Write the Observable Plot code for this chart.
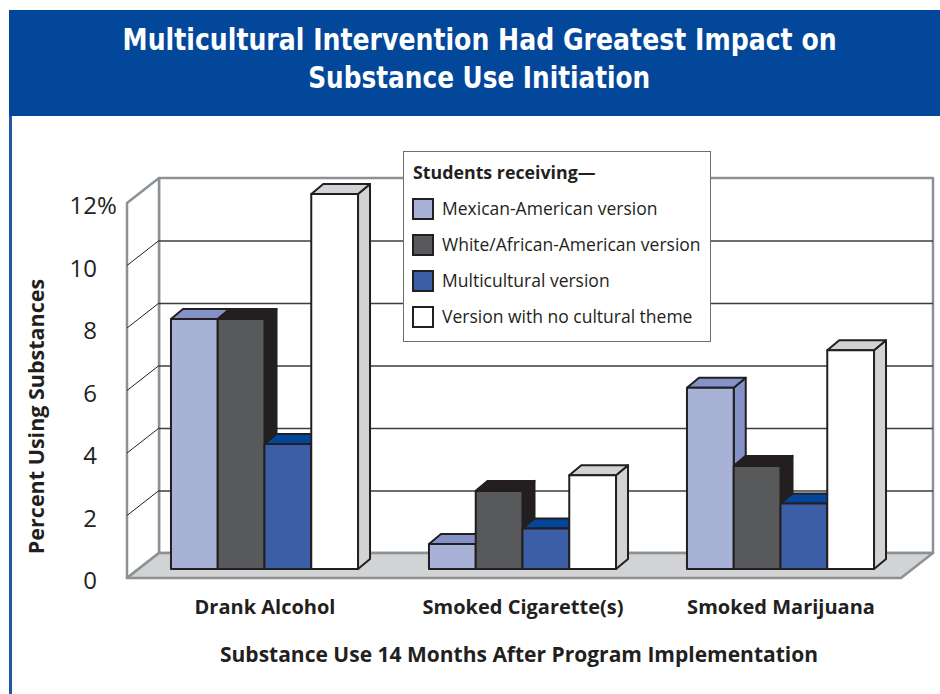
<!DOCTYPE html>
<html>
<head>
<meta charset="utf-8">
<script src="https://cdn.jsdelivr.net/npm/d3@7"></script>
<script src="https://cdn.jsdelivr.net/npm/@observablehq/plot@0.6"></script>
<style>
  body { margin: 0; background: #fff; }
  #frame { position: relative; width: 940px; height: 694px; overflow: hidden; font-family: "Open Sans", sans-serif; color: #231f20; }
  #chart { position: absolute; left: 0; top: 0; }
  #banner { position: absolute; left: 9px; top: 10px; width: 931px; height: 106px; background: #03479a; }
  .tline { position: absolute; left: 0; width: 931px; text-align: center; color: #fff; font-family: "Liberation Sans Narrow", "DejaVu Sans Condensed", sans-serif; font-weight: 700; font-size: 30px; line-height: 36px; white-space: nowrap; }
  .tline span { display: inline-block; transform-origin: center; }
  #rule { position: absolute; left: 9px; top: 116px; width: 3px; height: 578px; background: #1d57a5; }
  #legend { position: absolute; left: 403px; top: 151px; width: 306px; height: 189px; border: 1.5px solid #6d6e71; background: #fff; }
  #legend .lt { position: absolute; left: 9px; top: 8px; font-weight: 700; font-size: 17.8px; line-height: 24px; white-space: nowrap; }
  #legend .item { position: absolute; left: 8px; height: 24px; white-space: nowrap; font-size: 17.5px; line-height: 24px; }
  #legend .sw { position: absolute; left: 0; top: 1px; width: 18px; height: 18px; border: 2px solid #231f20; }
  #legend .lab { position: absolute; left: 30px; top: -1px; }
</style>
</head>
<body>
<div id="frame">
  <div id="chart"></div>
  <div id="rule"></div>
  <div id="banner">
    <div class="tline" style="top:12px"><span id="t1">Multicultural Intervention Had Greatest Impact on</span></div>
    <div class="tline" style="top:50px"><span id="t2">Substance Use Initiation</span></div>
  </div>
  <div id="legend"></div>
</div>
<script>
// ---- data ----
const categories = ["Drank Alcohol", "Smoked Cigarette(s)", "Smoked Marijuana"];
const versions = ["Mexican-American version", "White/African-American version", "Multicultural version", "Version with no cultural theme"];
const mexicanAmerican = [8.0, 0.8, 5.8];
const whiteAfricanAmerican = [8.0, 2.5, 3.3];
const multicultural = [4.0, 1.3, 2.1];
const noCulturalTheme = [12.0, 3.0, 7.0];
const yTicks = [0, 2, 4, 6, 8, 10, 12];
const legendTitle = "Students receiving\u2014";
const yTitle = "Percent Using Substances";
const xTitle = "Substance Use 14 Months After Program Implementation";

// ---- styles ----
const frontColors = ["#a8b1d6", "#58595b", "#3c5ea6", "#ffffff"];
const sideColors = ["#8592c8", "#231f20", "#03469a", "#d1d3d4"];
const ink = "#231f20";
const wallGray = "#8c9196";
const groupWidth = 0.725;           // fraction of one category step
const barDepth = {dx: 12, dy: -10}; // pixel depth of a bar
const backPlane = {dx: 23.5, dy: -16};
const frontPlane = {dx: -8.5, dy: 9};

const seriesValues = [mexicanAmerican, whiteAfricanAmerican, multicultural, noCulturalTheme];
const rows = [];
categories.forEach((c, ci) => versions.forEach((v, vi) => {
  rows.push({category: c, version: v, ci, vi, value: seriesValues[vi][ci]});
}));
const barW = groupWidth / versions.length;
const x1 = d => d.ci - groupWidth / 2 + d.vi * barW;
const x2 = d => d.ci - groupWidth / 2 + (d.vi + 1) * barW;

const poly = (g, pts, fill, stroke, sw) => g.append("polygon")
  .attr("points", pts.map(p => p.join(",")).join(" "))
  .attr("fill", fill).attr("stroke", stroke).attr("stroke-width", sw).attr("stroke-linejoin", "round");

// walls + floor
function walls(index, scales) {
  const x = scales.x, y = scales.y;
  const [d0, d1] = x.domain();
  const xL = x(d0), xR = x(d1), y0 = y(0), yT = y(yTicks[yTicks.length - 1]);
  const g = d3.create("svg:g");
  poly(g, [[xL + backPlane.dx, y0 + backPlane.dy], [xL + backPlane.dx, yT + backPlane.dy], [xR + backPlane.dx, yT + backPlane.dy], [xR + backPlane.dx, y0 + backPlane.dy]], "#fff", wallGray, 2.5);
  poly(g, [[xL + frontPlane.dx, y0 + frontPlane.dy], [xL + frontPlane.dx, yT + frontPlane.dy], [xL + backPlane.dx, yT + backPlane.dy], [xL + backPlane.dx, y0 + backPlane.dy]], "#fff", wallGray, 2.5);
  return g.node();
}
function leftWallTicks(index, scales) {
  const x = scales.x, y = scales.y;
  const xL = x(x.domain()[0]);
  const g = d3.create("svg:g");
  yTicks.slice(1, -1).forEach(t => {
    g.append("line")
      .attr("x1", xL + frontPlane.dx).attr("y1", y(t) + frontPlane.dy)
      .attr("x2", xL + backPlane.dx).attr("y2", y(t) + backPlane.dy)
      .attr("stroke", ink).attr("stroke-width", 1);
  });
  return g.node();
}
function floor(index, scales) {
  const x = scales.x, y = scales.y;
  const [d0, d1] = x.domain();
  const xL = x(d0), xR = x(d1), y0 = y(0);
  const g = d3.create("svg:g");
  poly(g, [[xL + frontPlane.dx, y0 + frontPlane.dy], [xR + frontPlane.dx, y0 + frontPlane.dy], [xR + backPlane.dx, y0 + backPlane.dy], [xL + backPlane.dx, y0 + backPlane.dy]], "#d1d3d4", wallGray, 2.5);
  return g.node();
}
// top and side faces of the bars
function barFaces(index, scales) {
  const x = scales.x, y = scales.y;
  const g = d3.create("svg:g");
  const {dx, dy} = barDepth;
  rows.forEach(d => {
    const L = x(x1(d)), R = x(x2(d)), T = y(d.value), B = y(0);
    poly(g, [[R, B], [R, T], [R + dx, T + dy], [R + dx, B + dy]], sideColors[d.vi], ink, 2);
    poly(g, [[L, T], [R, T], [R + dx, T + dy], [L + dx, T + dy]], sideColors[d.vi], ink, 2);
  });
  return g.node();
}

const chart = Plot.plot({
  width: 940,
  height: 694,
  marginLeft: 135.5,
  marginRight: 30.5,
  marginTop: 194,
  marginBottom: 125,
  x: {type: "linear", domain: [-0.5, categories.length - 0.5], axis: null},
  y: {domain: [0, 12], axis: null},
  style: {background: "transparent", fontFamily: "'Open Sans', sans-serif", color: ink},
  marks: [
    walls,
    Plot.ruleY(yTicks.slice(1, -1), {dx: backPlane.dx, dy: backPlane.dy, stroke: "#3d3d3f", strokeWidth: 1.3}),
    leftWallTicks,
    floor,
    barFaces,
    Plot.rectY(rows, {x1, x2, y1: 0, y2: "value", fill: d => frontColors[d.vi], stroke: ink, strokeWidth: 2, strokeLinejoin: "round"}),
    Plot.text(yTicks, {y: d => d, frameAnchor: "left", text: d => String(d), textAnchor: "end", dx: -39, dy: 12, fontSize: 24, fill: ink}),
    Plot.text([yTicks[yTicks.length - 1]], {y: d => d, frameAnchor: "left", text: () => "%", textAnchor: "start", dx: -39, dy: 12, fontSize: 24, fill: ink}),
    Plot.text(categories, {x: (d, i) => i, frameAnchor: "bottom", text: d => d, dy: 44, fontSize: 20, fontWeight: 700, fill: ink}),
    Plot.text([xTitle], {frameAnchor: "bottom", textAnchor: "middle", text: d => d, dx: -4, dy: 92, fontSize: 21, fontWeight: 700, fill: ink}),
    Plot.text([yTitle], {frameAnchor: "left", textAnchor: "middle", text: d => d, rotate: -90, dx: -98.5, dy: 34.5, fontSize: 21.5, fontWeight: 700, fill: ink})
  ]
});
document.getElementById("chart").appendChild(chart);

// legend
const legend = document.getElementById("legend");
const lt = document.createElement("div");
lt.className = "lt"; lt.textContent = legendTitle;
legend.appendChild(lt);
versions.forEach((v, i) => {
  const it = document.createElement("div");
  it.className = "item";
  it.style.top = (45 + i * 36) + "px";
  it.innerHTML = `<div class="sw" style="background:${frontColors[i]}"></div><div class="lab"></div>`;
  it.querySelector(".lab").textContent = v;
  legend.appendChild(it);
});

// fit title lines to the reference widths
[["t1", 714], ["t2", 342]].forEach(([id, w]) => {
  const el = document.getElementById(id);
  const cw = el.getBoundingClientRect().width;
  if (cw > 0) el.style.transform = `translateX(5px) scaleX(${w / cw})`;
});
</script>
</body>
</html>
